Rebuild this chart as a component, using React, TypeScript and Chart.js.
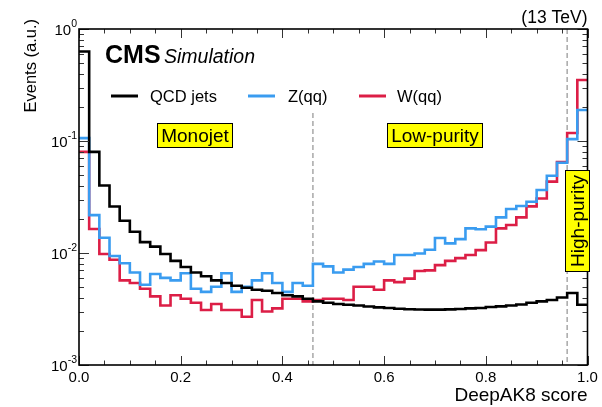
import React, { useEffect, useRef } from 'react';
import { Chart, registerables } from 'chart.js';

Chart.register(...registerables);

// ---- data ----
const binEdges = [
  0.0, 0.02, 0.04, 0.06, 0.08, 0.1, 0.12, 0.14, 0.16, 0.18,
  0.2, 0.22, 0.24, 0.26, 0.28, 0.3, 0.32, 0.34, 0.36, 0.38,
  0.4, 0.42, 0.44, 0.46, 0.48, 0.5, 0.52, 0.54, 0.56, 0.58,
  0.6, 0.62, 0.64, 0.66, 0.68, 0.7, 0.72, 0.74, 0.76, 0.78,
  0.8, 0.82, 0.84, 0.86, 0.88, 0.9, 0.92, 0.94, 0.96, 0.98, 1.0,
];

const qcdJets = [
  0.63, 0.080, 0.040, 0.026, 0.0194, 0.0155, 0.0125, 0.0114, 0.0098, 0.0085,
  0.0075, 0.0067, 0.0062, 0.0057, 0.0054, 0.0051, 0.0049, 0.0047, 0.0046, 0.0044,
  0.0042, 0.0041, 0.0039, 0.0037, 0.0036, 0.0035, 0.00345, 0.0034, 0.00333, 0.00327,
  0.00323, 0.00318, 0.00315, 0.00313, 0.00312, 0.00312, 0.00314, 0.00316, 0.0032, 0.00323,
  0.0033, 0.00334, 0.0034, 0.00347, 0.0036, 0.0037, 0.0038, 0.0040, 0.0044, 0.00345,
];

const zQQ = [
  0.106, 0.0218, 0.0137, 0.0094, 0.0081, 0.0067, 0.0052, 0.0065, 0.0060, 0.0057,
  0.0066, 0.0048, 0.0045, 0.0050, 0.0066, 0.0045, 0.0050, 0.0057, 0.0066, 0.0054,
  0.0045, 0.0054, 0.0051, 0.0080, 0.0076, 0.0067, 0.0071, 0.0075, 0.0080, 0.0084,
  0.0080, 0.0096, 0.0096, 0.0099, 0.0107, 0.0136, 0.0122, 0.0133, 0.0166, 0.0163,
  0.0172, 0.0208, 0.0247, 0.0263, 0.0287, 0.0365, 0.049, 0.064, 0.104, 0.189,
];

const wQQ = [
  0.080, 0.0164, 0.0098, 0.0087, 0.0057, 0.0054, 0.0048, 0.0041, 0.0034, 0.0042,
  0.0039, 0.0036, 0.0031, 0.0035, 0.0031, 0.0031, 0.0027, 0.0038, 0.0030, 0.0032,
  0.0039, 0.0039, 0.0037, 0.0038, 0.0039, 0.0039, 0.0038, 0.0050, 0.0050, 0.0047,
  0.0057, 0.0055, 0.0059, 0.0069, 0.0070, 0.0078, 0.0085, 0.0090, 0.0096, 0.0106,
  0.0124, 0.0166, 0.0178, 0.0208, 0.0261, 0.0307, 0.0434, 0.065, 0.118, 0.35,
];

const seriesLabels = ['QCD jets', 'Z(qq)', 'W(qq)'];
const seriesColors = ['#000000', '#3a9cf0', '#dc1e46'];
const yDecades = [1, 0.1, 0.01, 0.001];
const yExponents = ['0', '-1', '-2', '-3'];
const categoryCuts = [0.46, 0.96];
const regionLabels = ['Monojet', 'Low-purity', 'High-purity'];

const FONT = '"Liberation Sans", Arial, Helvetica, sans-serif';

function toSteps(vals: number[]) {
  return binEdges.map((x, i) => ({ x, y: vals[Math.min(i, vals.length - 1)] }));
}

const decorPlugin = {
  id: 'decor',
  beforeDatasetsDraw(chart: any) {
    const { ctx, chartArea: ca, scales } = chart;
    const xs = scales.x;
    const ys = scales.y;
    ctx.save();
    ctx.strokeStyle = '#a8a8a8';
    ctx.lineWidth = 1.5;
    ctx.setLineDash([5, 3]);
    const tops = [ys.getPixelForValue(0.178), ca.top];
    categoryCuts.forEach((c, i) => {
      const px = xs.getPixelForValue(c);
      ctx.beginPath();
      ctx.moveTo(px, tops[i]);
      ctx.lineTo(px, ca.bottom);
      ctx.stroke();
    });
    ctx.restore();
  },
  afterDatasetsDraw(chart: any) {
    const { ctx, chartArea: ca, scales } = chart;
    const xs = scales.x;
    const ys = scales.y;
    ctx.save();

    // ticks (inside, ROOT style)
    ctx.strokeStyle = '#333';
    ctx.lineWidth = 1;
    ctx.beginPath();
    for (let i = 0; i <= 20; i++) {
      const v = i * 0.05;
      const px = Math.round(xs.getPixelForValue(v)) + 0.5;
      const len = i % 4 === 0 ? 9 : 4.5;
      ctx.moveTo(px, ca.bottom);
      ctx.lineTo(px, ca.bottom - len);
      ctx.moveTo(px, ca.top);
      ctx.lineTo(px, ca.top + len);
    }
    for (let k = -3; k <= 0; k++) {
      for (let m = 1; m <= 9; m++) {
        const v = m * Math.pow(10, k);
        if (v > 1.0001) break;
        const py = Math.round(ys.getPixelForValue(v)) + 0.5;
        const len = m === 1 ? 10 : 5;
        ctx.moveTo(ca.left, py);
        ctx.lineTo(ca.left + len, py);
        ctx.moveTo(ca.right, py);
        ctx.lineTo(ca.right - len, py);
      }
    }
    ctx.stroke();

    // frame
    ctx.strokeStyle = '#000';
    ctx.lineWidth = 1.6;
    ctx.strokeRect(ca.left, ca.top, ca.right - ca.left, ca.bottom - ca.top);

    // y tick labels 10^k
    ctx.fillStyle = '#000';
    ctx.textBaseline = 'alphabetic';
    yDecades.forEach((v, i) => {
      const py = ys.getPixelForValue(v);
      const exp = yExponents[i];
      ctx.font = `10.5px ${FONT}`;
      const ew = ctx.measureText(exp).width;
      const right = ca.left - 2;
      ctx.textAlign = 'left';
      ctx.fillText(exp, right - ew, py - 2);
      ctx.font = `15px ${FONT}`;
      ctx.textAlign = 'right';
      ctx.fillText('10', right - ew, py + 5.5);
    });

    // y title
    ctx.save();
    ctx.translate(36, 19);
    ctx.rotate(-Math.PI / 2);
    ctx.font = `16.5px ${FONT}`;
    ctx.textAlign = 'right';
    ctx.fillText('Events (a.u.)', 0, 0);
    ctx.restore();

    // (13 TeV)
    ctx.font = `17.5px ${FONT}`;
    ctx.textAlign = 'right';
    ctx.fillText('(13 TeV)', ca.right, 23);

    // CMS Simulation
    ctx.textAlign = 'left';
    ctx.font = `bold 25px ${FONT}`;
    ctx.fillText('CMS', 105, 63);
    ctx.font = `italic 19.5px ${FONT}`;
    ctx.fillText('Simulation', 164, 63);

    // legend
    const legendLineX = [111, 248, 359];
    const legendTextX = [150, 288, 397];
    chart.data.datasets.forEach((ds: any, i: number) => {
      ctx.strokeStyle = ds.borderColor;
      ctx.lineWidth = 3;
      ctx.beginPath();
      ctx.moveTo(legendLineX[i], 96);
      ctx.lineTo(legendLineX[i] + 27, 96);
      ctx.stroke();
      ctx.fillStyle = '#000';
      ctx.font = `16.5px ${FONT}`;
      ctx.textAlign = 'left';
      ctx.fillText(ds.label, legendTextX[i], 101.5);
    });

    // region labels
    const drawBox = (x: number, y: number, w: number, h: number) => {
      ctx.fillStyle = '#ffff00';
      ctx.fillRect(x, y, w, h);
      ctx.strokeStyle = '#000';
      ctx.lineWidth = 1;
      ctx.strokeRect(x + 0.5, y + 0.5, w - 1, h - 1);
      ctx.fillStyle = '#000';
    };
    ctx.font = `19px ${FONT}`;
    ctx.textAlign = 'center';
    drawBox(157, 123, 76, 25);
    ctx.fillText(regionLabels[0], 195, 142);
    drawBox(387, 123, 96, 25);
    ctx.fillText(regionLabels[1], 435, 142);
    drawBox(565, 170, 25, 102);
    ctx.save();
    ctx.translate(577.5, 221);
    ctx.rotate(-Math.PI / 2);
    ctx.fillText(regionLabels[2], 0, 6);
    ctx.restore();

    ctx.restore();
  },
};

export default function App() {
  const canvasRef = useRef<HTMLCanvasElement | null>(null);

  useEffect(() => {
    const canvas = canvasRef.current;
    if (!canvas) return;
    Chart.defaults.font.family = FONT;
    Chart.defaults.color = '#000';
    const allSeries = [qcdJets, zQQ, wQQ];
    const chart = new Chart(canvas, {
      type: 'line',
      data: {
        datasets: allSeries.map((vals, i) => ({
          label: seriesLabels[i],
          data: toSteps(vals),
          borderColor: seriesColors[i],
          backgroundColor: seriesColors[i],
          borderWidth: 2.6,
          pointRadius: 0,
          fill: false,
          stepped: 'before' as const,
          tension: 0,
        })),
      },
      options: {
        responsive: false,
        animation: false,
        devicePixelRatio: 1,
        layout: { padding: { top: 29, right: 14.5, left: 0, bottom: 0 } },
        plugins: {
          legend: { display: false },
          tooltip: { enabled: false },
        },
        scales: {
          x: {
            type: 'linear',
            min: 0,
            max: 1,
            grid: { display: false, drawTicks: false },
            border: { display: false },
            ticks: {
              stepSize: 0.2,
              padding: 4,
              font: { size: 15 },
              color: '#000',
              callback: (v: any) => Number(v).toFixed(1),
            },
            title: {
              display: true,
              text: 'DeepAK8 score',
              align: 'end',
              font: { size: 19 },
              color: '#000',
              padding: { top: 0, bottom: 0 },
            },
            afterFit: (s: any) => {
              s.height = 42;
            },
          },
          y: {
            type: 'logarithmic',
            min: 0.001,
            max: 1,
            grid: { display: false, drawTicks: false },
            border: { display: false },
            ticks: { display: false },
            afterFit: (s: any) => {
              s.width = 79;
            },
          },
        },
      } as any,
      plugins: [decorPlugin],
    });
    return () => chart.destroy();
  }, []);

  return (
    <div style={{ position: 'absolute', left: 0, top: 0, width: 602, height: 407, background: '#fff' }}>
      <canvas ref={canvasRef} width={602} height={407} style={{ display: 'block', width: 602, height: 407 }} />
    </div>
  );
}
